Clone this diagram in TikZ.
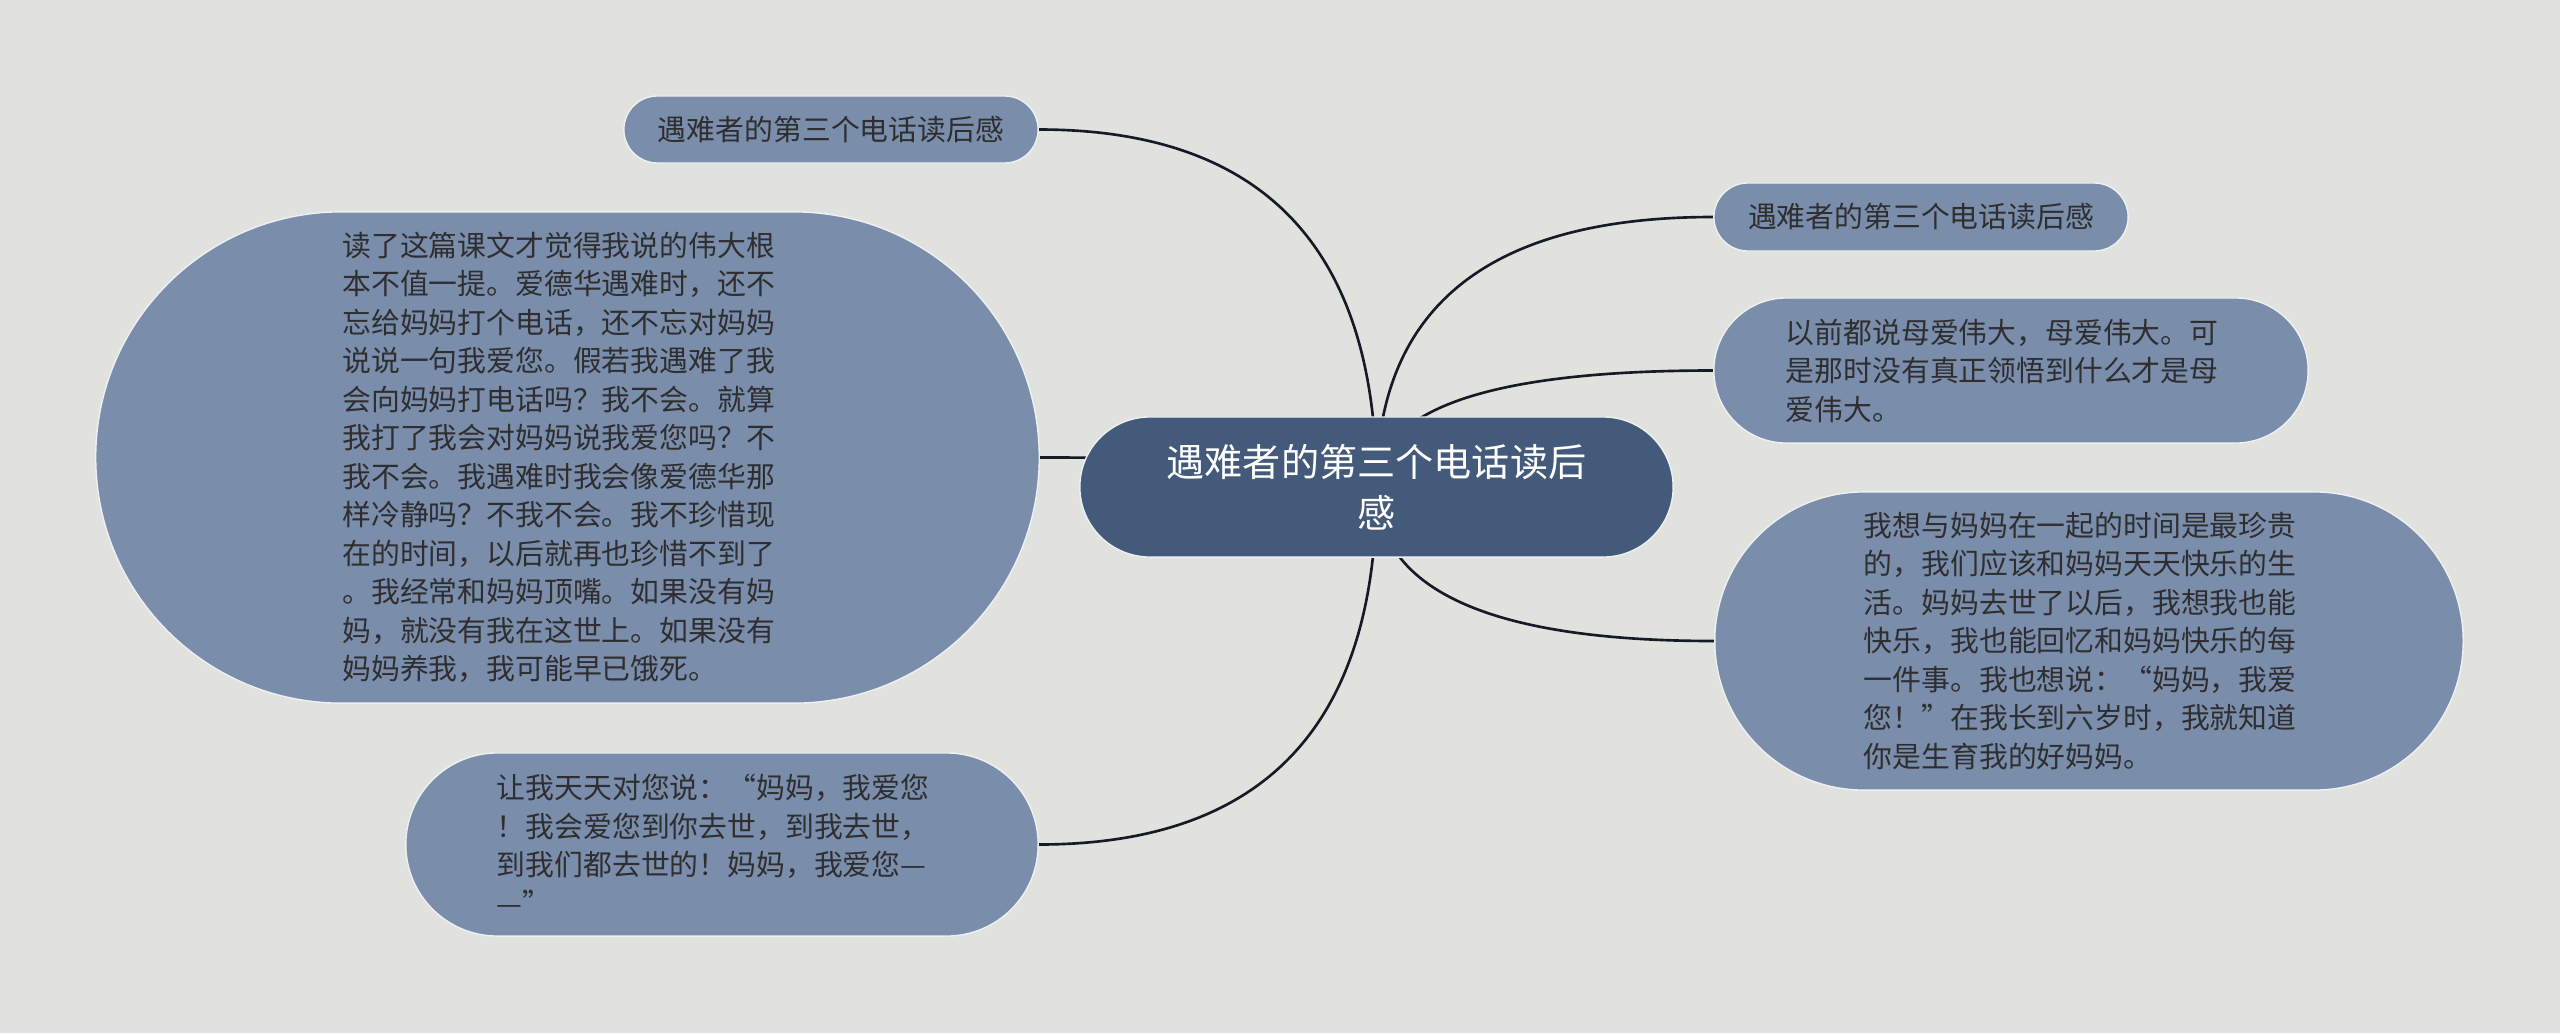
\documentclass[tikz,border=0pt]{standalone}
\usepackage{fontspec}
\usetikzlibrary{calc}
\newfontfamily\cjk{Noto Sans CJK SC}
\definecolor{bgcol}{HTML}{E1E2DD}
\definecolor{leafcol}{HTML}{7A8DAA}
\definecolor{rootcol}{HTML}{435A7A}
\definecolor{rimcol}{HTML}{EEF1F4}
\definecolor{inkcol}{HTML}{2E2E30}
\definecolor{linecol}{HTML}{141A26}
\pgfdeclarelayer{bg}
\pgfdeclarelayer{links}
\pgfsetlayers{bg,links,main}
\tikzset{
  leaf/.style={fill=leafcol, draw=rimcol, line width=0.4pt, text=inkcol, inner sep=0pt,
    font=\cjk\fontsize{8.2pt}{10.95pt}\selectfont},
  para/.style={leaf, text width=4.5cm, align=left},
  root/.style={fill=rootcol, draw=rimcol, line width=0.4pt, text=white, inner sep=0pt,
    align=center, font=\cjk\fontsize{10.85pt}{14.45pt}\selectfont},
  branch/.style={draw=linecol, line width=0.75pt}
}
\begin{document}
\begin{tikzpicture}[x=0.01cm, y=-0.01cm]
    \useasboundingbox (0,0) rectangle (2560,1033);
    \begin{pgfonlayer}{bg}
        \fill[bgcol] (0,0) rectangle (2560,1033);
    \end{pgfonlayer}

    \node[root, minimum width=5.93cm, minimum height=1.40cm, rounded corners=0.70cm] (M) at (1376.5,487) {遇难者的第三个电话读后\\感};

    % left side
    \node[leaf, minimum width=4.14cm, minimum height=0.67cm, rounded corners=0.335cm] (L1) at (831,129.5) {遇难者的第三个电话读后感};
    \node[para, minimum width=9.43cm, minimum height=4.91cm, rounded corners=2.455cm] (L2) at (567.5,457.5) {读了这篇课文才觉得我说的伟大根\\本不值一提。爱德华遇难时，还不\\忘给妈妈打个电话，还不忘对妈妈\\说说一句我爱您。假若我遇难了我\\会向妈妈打电话吗？我不会。就算\\我打了我会对妈妈说我爱您吗？不\\我不会。我遇难时我会像爱德华那\\样冷静吗？不我不会。我不珍惜现\\在的时间，以后就再也珍惜不到了\\。我经常和妈妈顶嘴。如果没有妈\\妈，就没有我在这世上。如果没有\\妈妈养我，我可能早已饿死。};
    \node[para, minimum width=6.32cm, minimum height=1.83cm, rounded corners=0.915cm] (L3) at (722,844.5) {让我天天对您说：“妈妈，我爱您\\！我会爱您到你去世，到我去世，\\到我们都去世的！妈妈，我爱您—\\—”};

    % right side
    \node[leaf, minimum width=4.14cm, minimum height=0.68cm, rounded corners=0.34cm] (R1) at (1921,217) {遇难者的第三个电话读后感};
    \node[para, minimum width=5.94cm, minimum height=1.45cm, rounded corners=0.725cm] (R2) at (2011,370.5) {以前都说母爱伟大，母爱伟大。可\\是那时没有真正领悟到什么才是母\\爱伟大。};
    \node[para, minimum width=7.48cm, minimum height=2.98cm, rounded corners=1.49cm] (R3) at (2089,641) {我想与妈妈在一起的时间是最珍贵\\的，我们应该和妈妈天天快乐的生\\活。妈妈去世了以后，我想我也能\\快乐，我也能回忆和妈妈快乐的每\\一件事。我也想说：“妈妈，我爱\\您！”在我长到六岁时，我就知道\\你是生育我的好妈妈。};

    \begin{pgfonlayer}{links}
        \foreach \n/\a in {L1/east, L2/east, L3/east, R1/west, R2/west, R3/west}
            \draw[branch] (M.center) .. controls ($(M.center)!2/3!(M.center |- \n.\a)$) and ($(\n.\a)!2/3!(M.center |- \n.\a)$) .. (\n.\a);
    \end{pgfonlayer}
\end{tikzpicture}
\end{document}
